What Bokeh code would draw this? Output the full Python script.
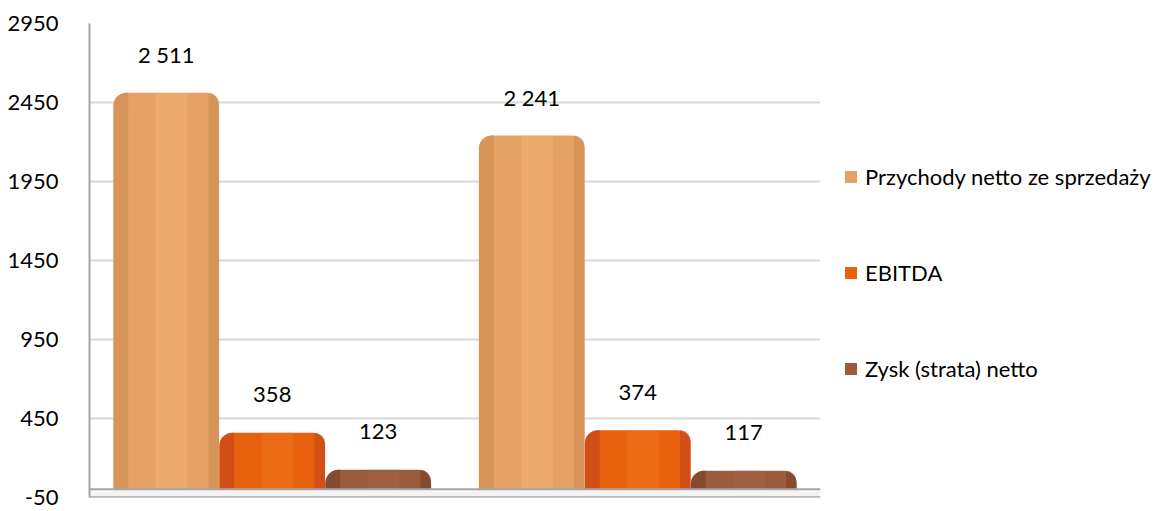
from bokeh.plotting import figure
from bokeh.models import Range1d, FixedTicker, Legend, LegendItem, Span, ColumnDataSource
from bokeh.embed import file_html
from bokeh.resources import INLINE

groups = ["2012", "2013"]
series = ["Przychody netto ze sprzedaży", "EBITDA", "Zysk (strata) netto"]
values = {
    "Przychody netto ze sprzedaży": [2511, 2241],
    "EBITDA": [358, 374],
    "Zysk (strata) netto": [123, 117],
}
labels = {
    "Przychody netto ze sprzedaży": ["2 511", "2 241"],
    "EBITDA": ["358", "374"],
    "Zysk (strata) netto": ["123", "117"],
}
y_ticks = [-50, 450, 950, 1450, 1950, 2450, 2950]

main_colors = ["#E6A264", "#E8610F", "#9C5B3B"]
edge_colors = ["#CF8E54", "#C8461A", "#7E452B"]
light_colors = ["#F0B878", "#F27A22", "#A86A48"]

FONT = "Lato"
FS = "22px"

p = figure(
    frame_width=731, frame_height=474,
    x_range=Range1d(0, 2), y_range=Range1d(-52, 2950),
    output_backend="svg", toolbar_location=None,
    min_border_left=89, min_border_top=23, min_border_bottom=14, min_border_right=10,
)
p.outline_line_color = None
p.background_fill_color = "white"
p.xaxis.visible = False
p.xgrid.grid_line_color = None
p.ygrid.grid_line_color = "#D9D9D9"
p.ygrid.grid_line_width = 2
p.ygrid.ticker = FixedTicker(ticks=y_ticks)
p.yaxis.ticker = FixedTicker(ticks=y_ticks)
p.yaxis.major_label_overrides = {t: str(t) for t in y_ticks}
p.yaxis.axis_line_color = "#A6A6A6"
p.yaxis.axis_line_width = 2
p.yaxis.major_tick_line_color = None
p.yaxis.minor_tick_line_color = None
p.yaxis.major_label_text_font = FONT
p.yaxis.major_label_text_font_size = FS
p.yaxis.major_label_text_color = "#000000"
p.yaxis.major_label_standoff = 25

# floor
p.quad(left=0, right=2, bottom=-50, top=0, fill_color="#F4F4F4", line_color=None)
p.add_layout(Span(location=0, dimension="width", line_color="#A6A6A6", line_width=2))
p.add_layout(Span(location=-50, dimension="width", line_color="#A6A6A6", line_width=2))

bw = 0.289
step = 0.29
offsets = [-step, 0.0, step]
items = []
for i, s in enumerate(series):
    xs = [g + 0.5 + offsets[i] for g in range(len(groups))]
    src = ColumnDataSource(dict(x=xs, top=values[s], lab=labels[s]))
    r = p.vbar(x="x", top="top", bottom=0, width=bw, source=src,
               fill_color=main_colors[i], line_color=None,
               border_radius=(13, 13, 0, 0))
    # cylinder shading strips
    xl = [x - bw / 2 + bw * 0.07 for x in xs]
    p.vbar(x=xl, top=values[s], bottom=0, width=bw * 0.14,
           fill_color=edge_colors[i], line_color=None, fill_alpha=0.7,
           border_radius=(13, 0, 0, 0))
    xr = [x + bw / 2 - bw * 0.05 for x in xs]
    p.vbar(x=xr, top=values[s], bottom=0, width=bw * 0.10,
           fill_color=edge_colors[i], line_color=None, fill_alpha=0.7,
           border_radius=(0, 13, 0, 0))
    xc = [x + bw * 0.05 for x in xs]
    p.vbar(x=xc, top=values[s], bottom=0, width=bw * 0.3,
           fill_color=light_colors[i], line_color=None, fill_alpha=0.4)
    p.text(x="x", y="top", text="lab", source=src, y_offset=-38,
           text_align="center", text_baseline="middle",
           text_font={"value": FONT}, text_font_size=FS, text_color="#000000")
    items.append(LegendItem(label=s, renderers=[r]))

legend = Legend(items=items, location=(23, 115), orientation="vertical",
                label_text_font=FONT, label_text_font_size=FS,
                label_text_color="#000000",
                glyph_width=15, glyph_height=15, label_height=21,
                spacing=69, padding=0, margin=0, label_standoff=7,
                border_line_color=None, background_fill_alpha=0)
p.add_layout(legend, "right")

open("out.html", "w").write(file_html(p, INLINE))
